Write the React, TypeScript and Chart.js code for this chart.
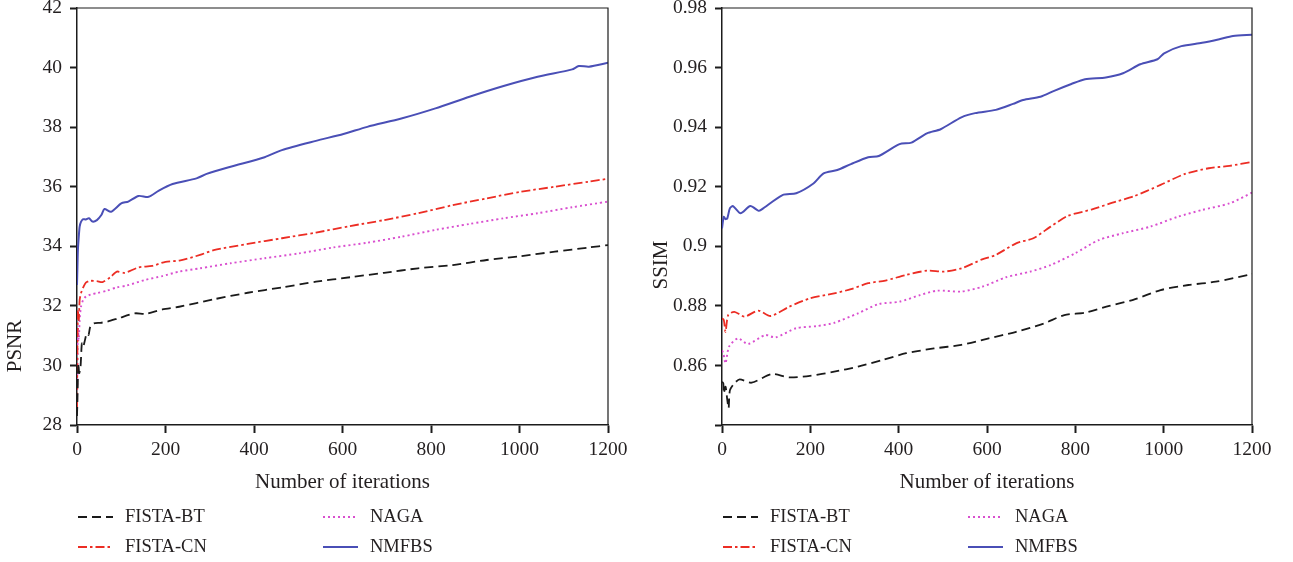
import React, { useEffect, useRef } from 'react';
import { Chart, registerables } from 'chart.js';

Chart.register(...registerables);

const SERIES_NAMES = ['FISTA-BT', 'FISTA-CN', 'NAGA', 'NMFBS'];
const X_TICKS = [0, 200, 400, 600, 800, 1000, 1200];

// ---------- PSNR (left) ----------
const psnrBtIter = [0, 1, 3, 5, 8, 11, 14, 18, 22, 26, 30, 38, 53, 68, 93, 131, 154, 193, 231, 309, 386, 463, 540, 617, 694, 771, 849, 926, 1003, 1080, 1157, 1200];
const psnrBtVal = [28.3, 28.84, 30.07, 29.74, 29.96, 30.74, 30.63, 30.85, 31.08, 31.02, 31.3, 31.41, 31.43, 31.47, 31.58, 31.75, 31.73, 31.88, 31.97, 32.22, 32.44, 32.62, 32.81, 32.96, 33.11, 33.26, 33.37, 33.54, 33.67, 33.82, 33.96, 34.04];

const psnrCnIter = [0, 2, 4, 6, 9, 14, 20, 30, 45, 58, 75, 90, 108, 139, 170, 200, 231, 278, 309, 386, 463, 540, 617, 694, 771, 849, 926, 1003, 1080, 1157, 1200];
const psnrCnVal = [28.6, 31.86, 31.52, 32.2, 32.42, 32.62, 32.78, 32.84, 32.83, 32.8, 32.96, 33.15, 33.11, 33.29, 33.34, 33.48, 33.52, 33.71, 33.87, 34.08, 34.27, 34.46, 34.68, 34.88, 35.11, 35.38, 35.61, 35.83, 36.0, 36.17, 36.27];

const psnrNagaIter = [0, 2, 4, 6, 9, 14, 20, 31, 46, 68, 90, 112, 154, 193, 231, 278, 347, 424, 501, 579, 656, 733, 810, 887, 964, 1041, 1119, 1200];
const psnrNagaVal = [28.5, 31.3, 30.85, 31.52, 31.97, 32.2, 32.31, 32.38, 32.43, 32.51, 32.62, 32.68, 32.87, 33.0, 33.15, 33.26, 33.43, 33.6, 33.76, 33.96, 34.12, 34.32, 34.55, 34.75, 34.94, 35.11, 35.31, 35.5];

const psnrNmfbsIter = [0, 1, 2, 4, 6, 9, 14, 20, 27, 35, 45, 55, 62, 77, 100, 116, 139, 162, 185, 216, 270, 293, 347, 424, 463, 540, 602, 656, 733, 810, 887, 964, 1041, 1119, 1134, 1157, 1200];
const psnrNmfbsVal = [32.7, 33.31, 33.87, 34.32, 34.66, 34.82, 34.91, 34.9, 34.94, 34.83, 34.88, 35.05, 35.25, 35.16, 35.44, 35.5, 35.69, 35.66, 35.87, 36.09, 36.28, 36.43, 36.67, 36.99, 37.23, 37.54, 37.77, 38.01, 38.29, 38.63, 39.02, 39.38, 39.69, 39.94, 40.05, 40.03, 40.16];

// ---------- SSIM (right) ----------
const ssimBtIter = [0, 3, 4, 8, 12, 15, 18, 28, 40, 67, 113, 152, 199, 254, 308, 363, 417, 480, 542, 604, 666, 729, 775, 822, 877, 931, 993, 1056, 1118, 1200];
const ssimBtVal = [0.8545, 0.854, 0.8506, 0.8529, 0.8484, 0.8456, 0.8517, 0.854, 0.8553, 0.8542, 0.8571, 0.856, 0.8565, 0.8579, 0.8596, 0.8618, 0.8641, 0.8657, 0.8669, 0.8691, 0.8713, 0.8741, 0.8769, 0.8777, 0.88, 0.882, 0.8853, 0.887, 0.8881, 0.8907];

const ssimCnIter = [0, 4, 8, 14, 28, 51, 82, 110, 152, 199, 254, 292, 331, 370, 417, 464, 503, 542, 589, 620, 666, 705, 744, 783, 838, 892, 931, 993, 1048, 1102, 1149, 1200];
const ssimCnVal = [0.8758, 0.8753, 0.8713, 0.8769, 0.878, 0.8764, 0.8784, 0.8766, 0.8797, 0.8825, 0.8842, 0.8856, 0.8876, 0.8885, 0.8904, 0.8918, 0.8915, 0.8926, 0.8956, 0.8971, 0.901, 0.9027, 0.9066, 0.9102, 0.9124, 0.915, 0.9167, 0.9206, 0.9243, 0.9262, 0.927, 0.9283];

const ssimNagaIter = [0, 3, 8, 16, 36, 59, 98, 121, 168, 215, 254, 308, 355, 402, 448, 487, 542, 589, 643, 698, 744, 799, 853, 908, 970, 1032, 1087, 1149, 1200];
const ssimNagaVal = [0.865, 0.8641, 0.8607, 0.8663, 0.8691, 0.8672, 0.8702, 0.8694, 0.8725, 0.8732, 0.8743, 0.8775, 0.8806, 0.8814, 0.8836, 0.8851, 0.8848, 0.8864, 0.8896, 0.8915, 0.8937, 0.8976, 0.9021, 0.9044, 0.9066, 0.9099, 0.9122, 0.9144, 0.918];

const ssimNmfbsIter = [0, 4, 8, 12, 18, 25, 42, 64, 83, 90, 137, 168, 207, 230, 261, 292, 331, 355, 402, 429, 464, 495, 542, 573, 620, 659, 682, 721, 752, 791, 822, 869, 908, 947, 986, 1001, 1040, 1087, 1126, 1157, 1200];
const ssimNmfbsVal = [0.906, 0.9099, 0.9091, 0.9094, 0.9128, 0.9135, 0.9111, 0.9135, 0.9119, 0.9124, 0.9172, 0.9178, 0.9211, 0.9245, 0.9256, 0.9276, 0.9299, 0.9303, 0.9343, 0.9348, 0.9379, 0.9393, 0.9433, 0.9447, 0.9458, 0.9478, 0.9491, 0.9502, 0.9522, 0.9545, 0.9561, 0.9567, 0.9581, 0.9611, 0.9628, 0.9648, 0.9672, 0.9683, 0.9695, 0.9706, 0.971];

const PSNR_TICKS = [28, 30, 32, 34, 36, 38, 40, 42];
const SSIM_TICK_LABELS = ['0.86', '0.88', '0.9', '0.92', '0.94', '0.96', '0.98'];

const FONT = "'Liberation Serif', 'DejaVu Serif', 'Times New Roman', serif";
const TEXT = '#231f20';
const AXIS = '#1c1c1c';

const STYLES = [
  { color: '#1a1a1a', dash: [9, 5], width: 1.8 },
  { color: '#ec2d24', dash: [9, 3, 2.5, 3], width: 1.8 },
  { color: '#d94fcf', dash: [2, 3], width: 1.9 },
  { color: '#4a4fb6', dash: [], width: 2 },
];

const pts = (xs: number[], ys: number[]) => xs.map((x, i) => ({ x, y: ys[i] }));

const framePlugin = {
  id: 'frame',
  afterDraw(chart: any) {
    const { ctx, chartArea: a } = chart;
    ctx.save();
    ctx.strokeStyle = AXIS;
    ctx.lineWidth = 1.2;
    ctx.beginPath();
    ctx.moveTo(a.left, a.top);
    ctx.lineTo(a.right, a.top);
    ctx.lineTo(a.right, a.bottom);
    ctx.stroke();
    ctx.restore();
  },
};

const sideTitlePlugin = {
  id: 'sideTitle',
  afterDraw(chart: any, _args: any, opts: any) {
    const { ctx } = chart;
    ctx.save();
    ctx.translate(opts.x, opts.y);
    ctx.rotate(-Math.PI / 2);
    ctx.font = `21px ${FONT}`;
    ctx.fillStyle = TEXT;
    ctx.textAlign = 'center';
    ctx.textBaseline = 'middle';
    ctx.fillText(opts.text, 0, 0);
    ctx.restore();
  },
};

const gridLegendPlugin = {
  id: 'gridLegend',
  afterDraw(chart: any, _args: any, opts: any) {
    const { ctx, chartArea: a } = chart;
    ctx.save();
    ctx.font = `18.5px ${FONT}`;
    ctx.textBaseline = 'middle';
    ctx.textAlign = 'left';
    chart.data.datasets.forEach((ds: any, i: number) => {
      const col = Math.floor(i / 2);
      const row = i % 2;
      const x0 = a.left + opts.colX[col];
      const y = opts.rowY[row];
      ctx.beginPath();
      ctx.setLineDash(ds.borderDash || []);
      ctx.strokeStyle = ds.borderColor;
      ctx.lineWidth = ds.borderWidth;
      ctx.moveTo(x0, y);
      ctx.lineTo(x0 + 35, y);
      ctx.stroke();
      ctx.setLineDash([]);
      ctx.fillStyle = TEXT;
      ctx.fillText(ds.label, x0 + 47, y);
    });
    ctx.restore();
  },
};

function makeConfig(kind: 'psnr' | 'ssim') {
  const isP = kind === 'psnr';
  const iters = isP
    ? [psnrBtIter, psnrCnIter, psnrNagaIter, psnrNmfbsIter]
    : [ssimBtIter, ssimCnIter, ssimNagaIter, ssimNmfbsIter];
  const vals = isP
    ? [psnrBtVal, psnrCnVal, psnrNagaVal, psnrNmfbsVal]
    : [ssimBtVal, ssimCnVal, ssimNagaVal, ssimNmfbsVal];
  const datasets = SERIES_NAMES.map((name, i) => ({
    label: name,
    data: pts(iters[i], vals[i]),
    borderColor: STYLES[i].color,
    borderDash: STYLES[i].dash,
    borderWidth: STYLES[i].width,
    pointRadius: 0,
    tension: 0.25,
    fill: false,
  }));
  const yWidth = isP ? 77 : 76;
  const padRight = isP ? 38 : 41;
  return {
    type: 'line',
    data: { datasets },
    plugins: [framePlugin, sideTitlePlugin, gridLegendPlugin],
    options: {
      animation: false,
      responsive: false,
      devicePixelRatio: 1,
      layout: { padding: { left: 0, right: padRight, top: 8, bottom: 67 } },
      plugins: {
        legend: { display: false },
        tooltip: { enabled: false },
        sideTitle: { text: isP ? 'PSNR' : 'SSIM', x: 15, y: isP ? 346 : 265 },
        gridLegend: { colX: [1, 246], rowY: [517, 547] },
      },
      scales: {
        x: {
          type: 'linear',
          min: 0,
          max: 1200,
          afterBuildTicks: (scale: any) => {
            scale.ticks = X_TICKS.map((v) => ({ value: v }));
          },
          afterFit: (scale: any) => {
            scale.height = 70;
            scale.paddingLeft = 0;
            scale.paddingRight = 0;
          },
          ticks: {
            color: TEXT,
            font: { family: FONT, size: 19.5 },
            padding: 5,
            maxRotation: 0,
            callback: (v: any) => String(v),
          },
          grid: {
            drawOnChartArea: false,
            drawTicks: true,
            tickLength: 8,
            tickWidth: 2,
            tickColor: AXIS,
          },
          border: { display: true, color: AXIS, width: 1.5 },
          title: {
            display: true,
            text: 'Number of iterations',
            color: TEXT,
            font: { family: FONT, size: 21 },
            padding: { top: 0, bottom: 0 },
          },
        },
        y: {
          type: 'linear',
          min: isP ? 28 : 0.84,
          max: isP ? 42 : 0.98,
          afterBuildTicks: (scale: any) => {
            if (isP) {
              scale.ticks = PSNR_TICKS.map((v) => ({ value: v }));
            } else {
              scale.ticks = [{ value: 0.84 }].concat(SSIM_TICK_LABELS.map((s) => ({ value: parseFloat(s) })));
            }
          },
          afterFit: (scale: any) => {
            scale.width = yWidth;
            scale.paddingTop = 0;
            scale.paddingBottom = 0;
          },
          ticks: {
            color: TEXT,
            font: { family: FONT, size: 19.5 },
            padding: 8,
            callback: (v: any) => {
              if (isP) return String(v);
              const r = Math.round(v * 100) / 100;
              if (r < 0.85) return '';
              return String(r);
            },
          },
          grid: {
            drawOnChartArea: false,
            drawTicks: true,
            tickLength: 7,
            tickWidth: 2,
            tickColor: AXIS,
          },
          border: { display: true, color: AXIS, width: 1.5 },
          title: { display: false },
        },
      },
    },
  };
}

function PanelChart({ kind, width, height }: { kind: 'psnr' | 'ssim'; width: number; height: number }) {
  const ref = useRef<HTMLCanvasElement | null>(null);
  useEffect(() => {
    if (!ref.current) return;
    const chart = new Chart(ref.current, makeConfig(kind) as any);
    return () => chart.destroy();
  }, [kind]);
  return <canvas ref={ref} width={width} height={height} style={{ display: 'block', width, height }} />;
}

export default function App() {
  return (
    <div style={{ position: 'absolute', left: 0, top: 0, width: 1293, height: 562, background: '#fff' }}>
      <div style={{ position: 'absolute', left: 0, top: 0 }}>
        <PanelChart kind="psnr" width={646} height={562} />
      </div>
      <div style={{ position: 'absolute', left: 646, top: 0 }}>
        <PanelChart kind="ssim" width={647} height={562} />
      </div>
    </div>
  );
}
